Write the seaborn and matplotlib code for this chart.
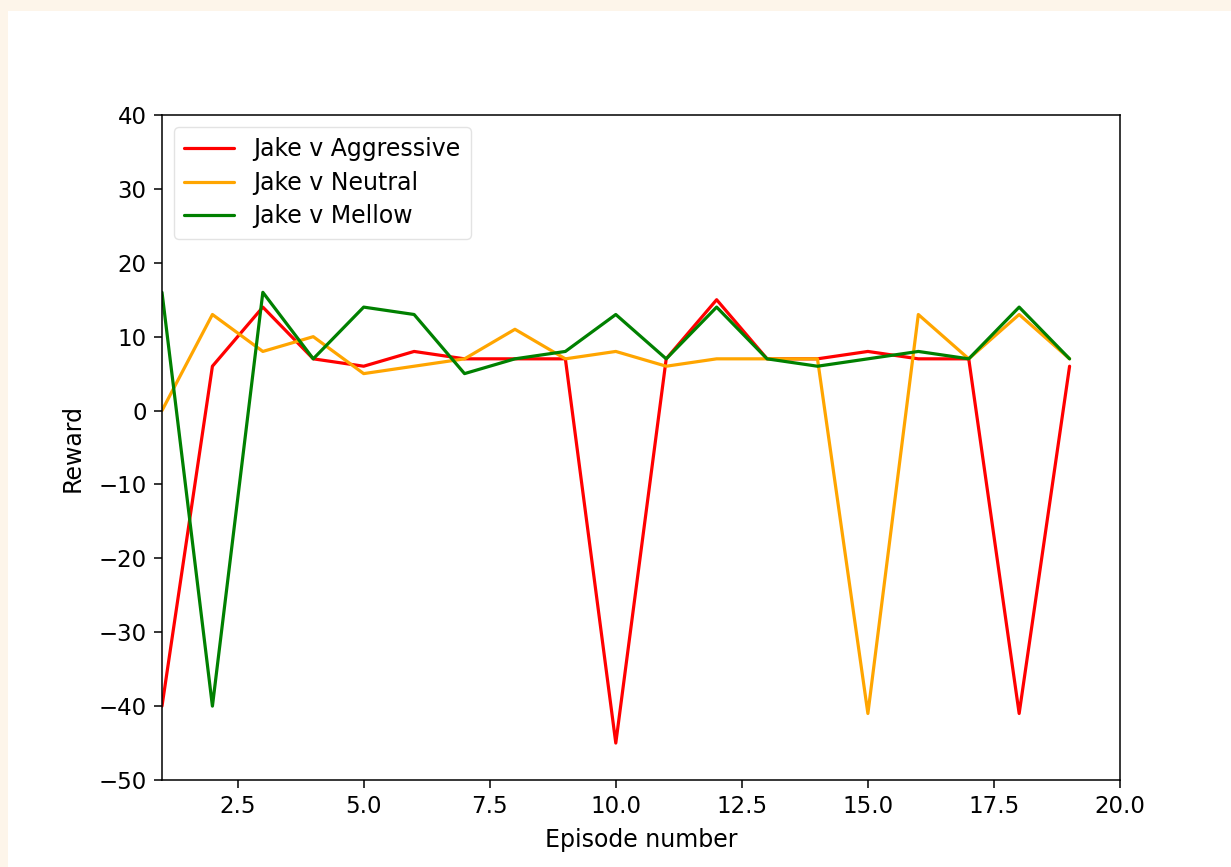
import matplotlib
matplotlib.use("Agg")
import matplotlib.pyplot as plt
from matplotlib.patches import Rectangle
import pandas as pd
import seaborn as sns

# --- data ------------------------------------------------------------
episodes = list(range(1, 20))
aggressive = [-40, 6, 14, 7, 6, 8, 7, 7, 7, -45, 7, 15, 7, 7, 8, 7, 7, -41, 6]
neutral = [0, 13, 8, 10, 5, 6, 7, 11, 7, 8, 6, 7, 7, 7, -41, 13, 7, 13, 7]
mellow = [16, -40, 16, 7, 14, 13, 5, 7, 8, 13, 7, 14, 7, 6, 7, 8, 7, 14, 7]
series_names = ["Jake v Aggressive", "Jake v Neutral", "Jake v Mellow"]
series_colors = ["red", "orange", "green"]

df = pd.concat([
    pd.DataFrame({"episode": episodes, "reward": vals, "matchup": name})
    for name, vals in zip(series_names, [aggressive, neutral, mellow])
])

sns.set_style("ticks")
plt.rcParams["font.family"] = ["DejaVu Sans"]
plt.rcParams.update({"text.color": "black", "axes.labelcolor": "black",
                     "xtick.color": "black", "ytick.color": "black"})

fig = plt.figure(figsize=(12.31, 8.67), dpi=100, facecolor="#fdf5ea")
# white panel inside the cream frame (kept behind the axes)
fig.patches.append(Rectangle((8 / 1231, 0), 1 - 8 / 1231, 1 - 11 / 867,
                             transform=fig.transFigure, facecolor="white",
                             edgecolor="none", zorder=-10))

ax = fig.add_axes([162 / 1231, 1 - 780 / 867, (1120 - 162) / 1231, (780 - 115) / 867])
sns.lineplot(data=df, x="episode", y="reward", hue="matchup",
             palette=dict(zip(series_names, series_colors)),
             linewidth=2.3, ax=ax)

ax.set_xlim(1, 20)
ax.set_ylim(-50, 40)
ax.set_xlabel("Episode number", fontsize=17, labelpad=7)
ax.set_ylabel("Reward", fontsize=17, labelpad=10)
ax.tick_params(labelsize=16.5, length=6, width=1.1, pad=5)
for s in ax.spines.values():
    s.set_linewidth(1.1)
    s.set_color("black")

leg = ax.legend(loc="upper left", fontsize=17, handlelength=2.1,
                handletextpad=0.8, borderpad=0.45, labelspacing=0.4,
                borderaxespad=0.5)
leg.get_frame().set_edgecolor("#dddddd")

fig.savefig("out.png", dpi=100, facecolor=fig.get_facecolor())
